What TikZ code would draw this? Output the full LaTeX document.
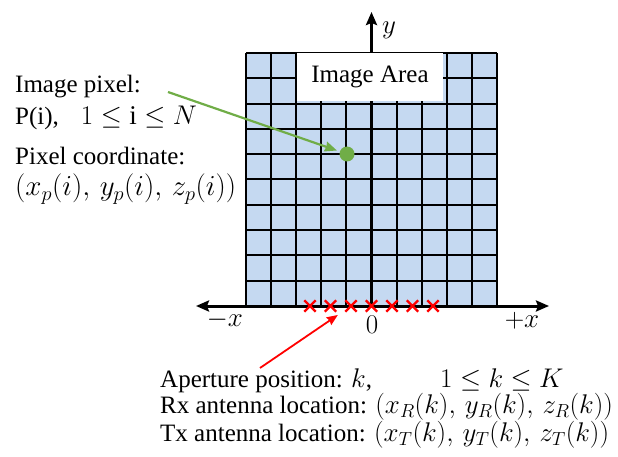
\documentclass[tikz,border=0pt]{standalone}
\usepackage{fix-cm}
\usepackage{fontspec}
\setmainfont{Liberation Serif}
\usetikzlibrary{arrows.meta,shapes.misc}
\definecolor{cellblue}{RGB}{197,217,241}
\definecolor{pixgreen}{RGB}{112,173,71}
\definecolor{xred}{RGB}{255,0,0}
\newcommand{\mthx}[1]{{\fontsize{27}{30}\selectfont$#1$}}
\begin{document}
\begin{tikzpicture}[x=1pt,y=-1pt,
  txt/.style={font=\fontsize{25}{30}\selectfont, inner sep=0pt, anchor=base west},
  lbl/.style={font=\fontsize{25}{30}\selectfont, inner sep=0pt, anchor=center},
  gridline/.style={line width=2pt},
  axistip/.tip={Stealth[length=13pt,width=11pt,inset=2pt]},
  axisline/.style={line width=3pt},
  cross/.style={draw=xred, cross out, line width=2.4pt, minimum size=9pt, inner sep=0pt},
  greenarrow/.style={draw=pixgreen, line width=2.2pt, -{Stealth[length=12pt,width=10pt,inset=1pt]}},
  redarrow/.style={draw=xred, line width=1.8pt, -{Stealth[length=11pt,width=9pt,inset=1pt]}}]
\useasboundingbox (0,0) rectangle (618,457);
% grid
\fill[cellblue] (246,53) rectangle (497,306);
\foreach \i in {0,...,10} {
  \draw[gridline] ({246+25.1*\i},53) -- ({246+25.1*\i},306);
  \draw[gridline] (246,{53+25.3*\i}) -- (497,{53+25.3*\i});
}
% axes points
\coordinate (o) at (371.5,306);
\coordinate (ytip) at (371.5,12);
\coordinate (xl) at (196,306);
\coordinate (xr) at (549,306);
\draw[axisline, -axistip] (o) -- (ytip);
\node[fill=white, minimum width=146pt, minimum height=48pt, inner sep=0pt,
      font=\fontsize{25}{30}\selectfont] (area) at (370,77) {Image Area};
\draw[axisline, axistip-axistip] (xl) -- (xr);
% axis labels
\node[lbl] (ylab) at (389,30) {\mthx{y}};
\node[lbl] (mx) at (225,320) {\mthx{-x}};
\node[lbl] (px) at (522,321) {\mthx{+x}};
\node[lbl] (zero) at (372,325) {\mthx{0}};
% aperture crosses
\foreach \j in {1,...,7} {
  \node[cross] (x\j) at ({310+20.5*(\j-1)},306) {};
}
% pixel
\node[circle, fill=pixgreen, minimum size=15pt, inner sep=0pt] (pix) at (347,154) {};
% left texts
\node[txt] (imgpix) at (15,93) {Image pixel:};
\node[txt] (pi) at (15,125) {P(i),\hspace{22pt}\mthx{1 \le \mathrm{i} \le N}};
\node[txt] (pc) at (15,165) {Pixel coordinate:};
\node[txt] (pcoord) at (15,196) {{\fontsize{29}{30}\selectfont$(x_p(i),\, y_p(i),\, z_p(i))$}};
% bottom texts
\node[txt] (ap) at (160,387) {Aperture position: \mthx{k},};
\node[txt] (apr) at (440,387) {\mthx{1 \le k \le K}};
\node[txt] (rx) at (160,413) {Rx antenna location: \mthx{(x_R(k),\, y_R(k),\, z_R(k))}};
\node[txt] (tx) at (160,441) {Tx antenna location: \mthx{(x_T(k),\, y_T(k),\, z_T(k))}};
% connectors
\coordinate (gs) at (168,92);
\draw[greenarrow, shorten >=3pt] (gs) -- (pix);
\coordinate (rs) at (260,368);
\draw[redarrow, shorten >=9pt] (rs) -- (x3);
\end{tikzpicture}
\end{document}
